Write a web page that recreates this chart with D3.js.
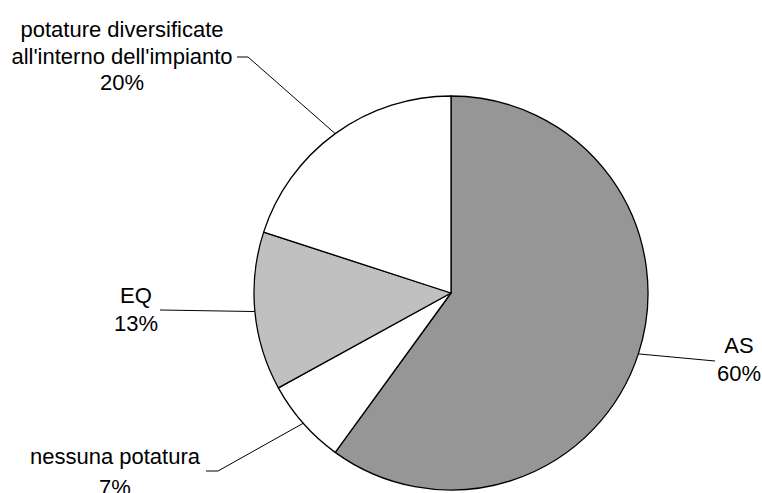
<!DOCTYPE html>
<html>
<head>
<meta charset="utf-8">
<script src="https://cdn.jsdelivr.net/npm/d3@7"></script>
<style>
  body { margin: 0; background: #fff; }
  text { font-family: "Liberation Sans", Arial, sans-serif; font-size: 22px; fill: #000; }
</style>
</head>
<body>
<div id="chart"></div>
<script>
// Chart data (clockwise from 12 o'clock)
const CATEGORIES = ['AS', 'nessuna potatura', 'EQ', "potature diversificate all'interno dell'impianto"];
const VALUES = [60, 7, 13, 20];
const PERCENT_LABELS = ['60%', '7%', '13%', '20%'];

// Layout
const WIDTH = 762;
const HEIGHT = 493;
const CENTER = { x: 451, y: 293 };
const RADIUS = 197;
const FILLS = ['#969696', '#ffffff', '#c0c0c0', '#ffffff'];

// label text lines, anchor (text centre x, first baseline y) and leader path points
const LABEL_LINES = [
  ['AS', PERCENT_LABELS[0]],
  ['nessuna potatura', PERCENT_LABELS[1]],
  ['EQ', PERCENT_LABELS[2]],
  ['potature diversificate', "all'interno dell'impianto", PERCENT_LABELS[3]]
];
const LABEL_POS = [
  { x: 739, y: 353, lh: 28 },
  { x: 115, y: 464, lh: 31 },
  { x: 136, y: 303, lh: 28 },
  { x: 122, y: 37, lh: 26.5 }
];
const LEADER_END = [
  [[715, 361]],
  [[218, 471], [206, 471]],
  [[160, 310]],
  [[248, 57], [237, 57]]
];

const svg = d3.select('#chart')
  .append('svg')
  .attr('width', WIDTH)
  .attr('height', HEIGHT);

const pie = d3.pie().sort(null).value(d => d);
const arcs = pie(VALUES);

const arc = d3.arc().innerRadius(0).outerRadius(RADIUS);

const g = svg.append('g')
  .attr('transform', `translate(${CENTER.x}, ${CENTER.y})`);

g.selectAll('path')
  .data(arcs)
  .join('path')
  .attr('d', arc)
  .attr('fill', (d, i) => FILLS[i])
  .attr('stroke', '#000')
  .attr('stroke-width', 1.3)
  .attr('stroke-linejoin', 'round');

// leader lines from slice mid-angle on the rim
const line = d3.line();
svg.selectAll('path.leader')
  .data(arcs)
  .join('path')
  .attr('class', 'leader')
  .attr('fill', 'none')
  .attr('stroke', '#000')
  .attr('stroke-width', 1)
  .attr('d', (d, i) => {
    const a = (d.startAngle + d.endAngle) / 2;
    const start = [CENTER.x + RADIUS * Math.sin(a), CENTER.y - RADIUS * Math.cos(a)];
    return line([start].concat(LEADER_END[i]));
  });

// labels
const labels = svg.selectAll('text.label')
  .data(CATEGORIES)
  .join('text')
  .attr('class', 'label')
  .attr('text-anchor', 'middle');

labels.each(function (d, i) {
  d3.select(this).selectAll('tspan')
    .data(LABEL_LINES[i])
    .join('tspan')
    .attr('x', LABEL_POS[i].x)
    .attr('y', (t, j) => LABEL_POS[i].y + j * LABEL_POS[i].lh)
    .text(t => t);
});
</script>
</body>
</html>
